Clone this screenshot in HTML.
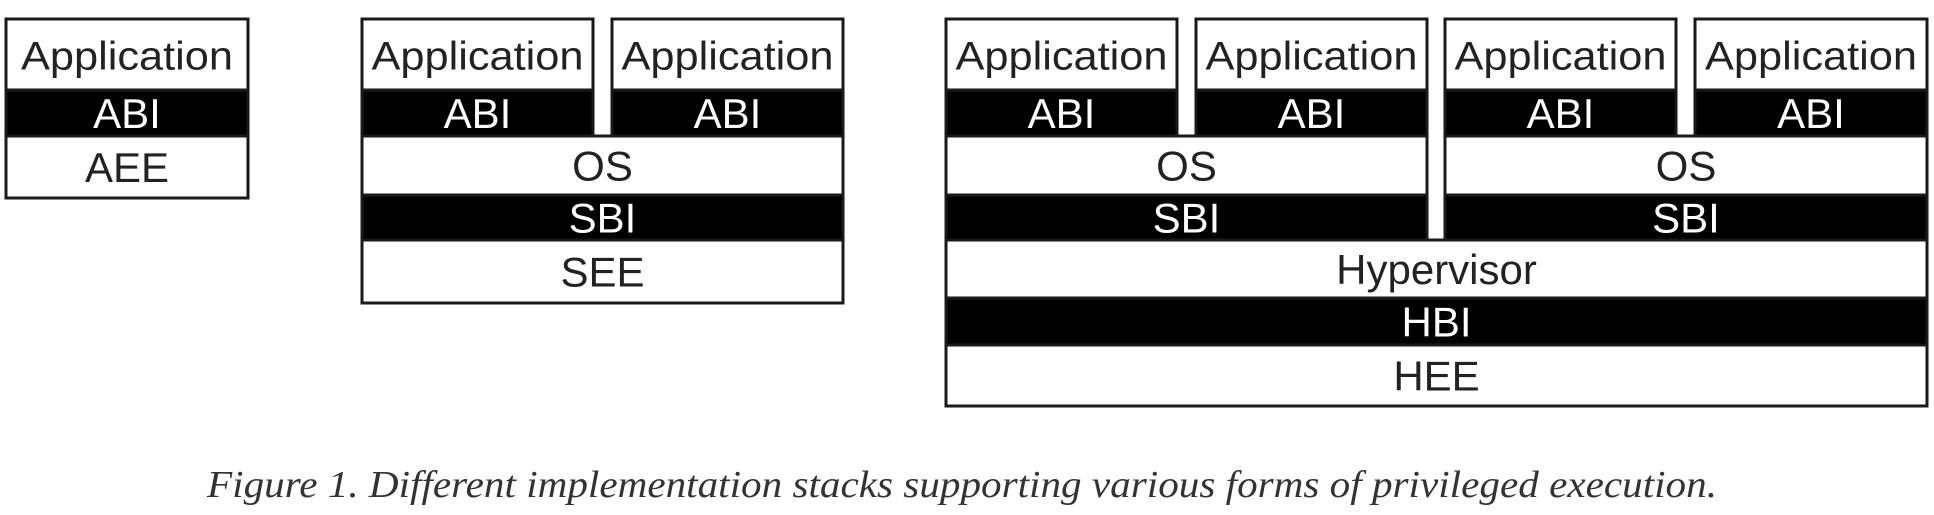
<!DOCTYPE html>
<html><head><meta charset="utf-8"><style>
html,body{margin:0;padding:0;background:#fff;}
svg{display:block;}
text{font-family:"Liberation Sans",Arial,sans-serif;}
</style></head><body>
<svg width="1934" height="515" viewBox="0 0 1934 515">
<g id="g" stroke="#1a1a1a" stroke-width="3"></g>
<text x="962" y="497" text-anchor="middle" textLength="1510" lengthAdjust="spacingAndGlyphs" style="font-family:'Liberation Serif',serif;font-style:italic;font-size:38px;fill:#333;">Figure 1. Different implementation stacks supporting various forms of privileged execution.</text>
</svg>
<script>
// [x1, x2, y1, y2, label, dark]
const blocks = [
  [6,248,19,90,"Application",0],[6,248,90,136,"ABI",1],[6,248,136,198,"AEE",0],
  [362,593,19,90,"Application",0],[612,843,19,90,"Application",0],
  [362,593,90,136,"ABI",1],[612,843,90,136,"ABI",1],
  [362,843,136,195,"OS",0],[362,843,195,240,"SBI",1],[362,843,240,303,"SEE",0],
  [946,1177,19,90,"Application",0],[1196,1427,19,90,"Application",0],
  [1445,1676,19,90,"Application",0],[1695,1927,19,90,"Application",0],
  [946,1177,90,136,"ABI",1],[1196,1427,90,136,"ABI",1],
  [1445,1676,90,136,"ABI",1],[1695,1927,90,136,"ABI",1],
  [946,1427,136,195,"OS",0],[1445,1927,136,195,"OS",0],
  [946,1427,195,240,"SBI",1],[1445,1927,195,240,"SBI",1],
  [946,1927,240,298,"Hypervisor",0],[946,1927,298,345,"HBI",1],[946,1927,345,406,"HEE",0]
];
const NS="http://www.w3.org/2000/svg";
const g=document.getElementById('g');
blocks.forEach(b=>{
  const [x1,x2,y1,y2,label,dark]=b;
  const r=document.createElementNS(NS,'rect');
  r.setAttribute('x',x1);r.setAttribute('y',y1);
  r.setAttribute('width',x2-x1);r.setAttribute('height',y2-y1);
  r.setAttribute('fill',dark?'#000':'#fff');
  
  
  g.appendChild(r);
  const t=document.createElementNS(NS,'text');
  t.setAttribute('x',(x1+x2)/2);
  t.setAttribute('y',(y1+y2)/2+15);
  t.setAttribute('text-anchor','middle');
  t.setAttribute('stroke','none');
  t.setAttribute('fill',dark?'#fff':'#222');
  t.setAttribute('font-size',label==="Application"?'40':'42');
  if(label==="Application"){t.setAttribute('textLength','212');t.setAttribute('lengthAdjust','spacingAndGlyphs');}
  t.textContent=label;
  
  
  g.appendChild(t);
});
</script>
</body></html>
